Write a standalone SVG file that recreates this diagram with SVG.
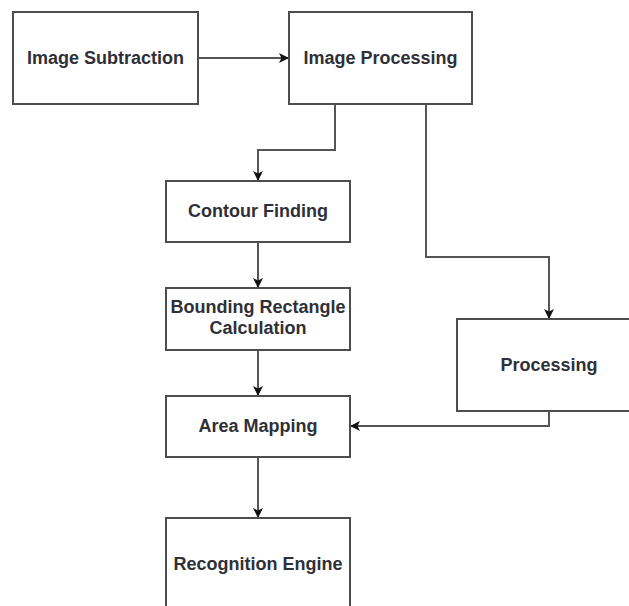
<svg xmlns="http://www.w3.org/2000/svg" width="629" height="606" viewBox="0 0 629 606">
  <defs>
    <marker id="arrow" viewBox="0 0 10 10" refX="10" refY="5" markerWidth="10" markerHeight="10" markerUnits="userSpaceOnUse" orient="auto">
      <path d="M0,0 L10,5 L0,10 L2.5,5 Z" fill="#111"/>
    </marker>
  </defs>
  <style>
    .box { fill: #ffffff; stroke: #4d4d4d; stroke-width: 2; }
    .lbl { font-family: "Liberation Sans", Arial, sans-serif; font-weight: bold; font-size: 18px; fill: #2f2f38; text-anchor: middle; }
    .edge { fill: none; stroke: #555555; stroke-width: 2; }
  </style>
  <rect width="629" height="606" fill="#ffffff"/>

  <g id="connectors">
    <path class="edge" d="M198,58 L289,58" marker-end="url(#arrow)"/>
    <path class="edge" d="M335,104 L335,150 L258,150 L258,181" marker-end="url(#arrow)"/>
    <path class="edge" d="M426,104 L426,257 L549,257 L549,319" marker-end="url(#arrow)"/>
    <path class="edge" d="M258,242 L258,288" marker-end="url(#arrow)"/>
    <path class="edge" d="M258,350 L258,396" marker-end="url(#arrow)"/>
    <path class="edge" d="M549,411 L549,426 L350,426" marker-end="url(#arrow)"/>
    <path class="edge" d="M258,457 L258,518" marker-end="url(#arrow)"/>
  </g>

  <g id="image-subtraction">
    <rect class="box" x="13" y="12" width="185" height="92"/>
    <text class="lbl" x="105.5" y="64">Image Subtraction</text>
  </g>
  <g id="image-processing">
    <rect class="box" x="289" y="12" width="183" height="92"/>
    <text class="lbl" x="380.5" y="64">Image Processing</text>
  </g>
  <g id="contour-finding">
    <rect class="box" x="166" y="181" width="184" height="61"/>
    <text class="lbl" x="258" y="217">Contour Finding</text>
  </g>
  <g id="bounding-rectangle">
    <rect class="box" x="166" y="288" width="184" height="62"/>
    <text class="lbl" x="258" y="313">Bounding Rectangle</text>
    <text class="lbl" x="258" y="334">Calculation</text>
  </g>
  <g id="area-mapping">
    <rect class="box" x="166" y="396" width="184" height="61"/>
    <text class="lbl" x="258" y="432">Area Mapping</text>
  </g>
  <g id="recognition-engine">
    <rect class="box" x="166" y="518" width="184" height="92"/>
    <text class="lbl" x="258" y="570">Recognition Engine</text>
  </g>
  <g id="processing">
    <rect class="box" x="457" y="319" width="184" height="92"/>
    <text class="lbl" x="549" y="371">Processing</text>
  </g>
</svg>
